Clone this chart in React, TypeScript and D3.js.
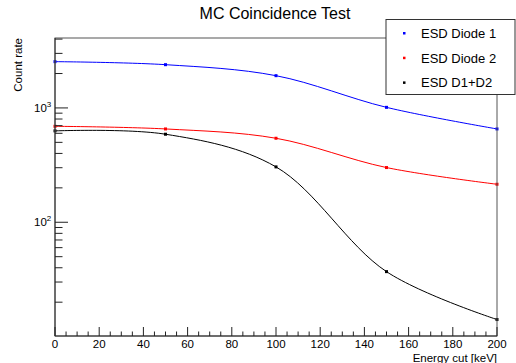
import React from "react";
import * as d3 from "d3";

const energies = [0, 50, 100, 150, 200];
const diode1 = [2540, 2390, 1915, 1012, 655];
const diode2 = [691, 655, 543, 301, 215];
const d1d2 = [630, 589, 305, 37.0, 14.1];
const seriesNames = ["ESD Diode 1", "ESD Diode 2", "ESD D1+D2"];
const seriesColors = ["#0000ff", "#ff0000", "#000000"];
const xTicks = [0, 20, 40, 60, 80, 100, 120, 140, 160, 180, 200];

const W = 516, H = 363;
const L = 55, R = 497, T = 38, B = 336;

export default function App() {
  const x = d3.scaleLinear().domain([0, 200]).range([L, R]);
  const y = d3.scaleLog().domain([10.12, 4090]).range([B, T]);
  const series = [diode1, diode2, d1d2];
  const line = d3
    .line<[number, number]>()
    .x((d) => x(d[0]))
    .y((d) => y(d[1]))
    .curve(d3.curveCatmullRom.alpha(0.5));

  const minorX = d3.range(0, 201, 5);
  const yMinor: number[] = [];
  for (const dec of [10, 100, 1000]) {
    for (let k = 1; k <= 9; k++) {
      const v = dec * k;
      if (v >= 10.12 && v <= 4090 && k !== 1) yMinor.push(v);
    }
  }
  const yMajor = [100, 1000];
  const font = "Liberation Sans, Arial, Helvetica, sans-serif";

  return (
    <svg width={W} height={H} style={{ position: "absolute", left: 0, top: 0 }} fontFamily={font}>
      <rect x={0} y={0} width={W} height={H} fill="#fff" />
      <text x={275} y={19} textAnchor="middle" fontSize={16}>MC Coincidence Test</text>

      {/* curves */}
      {series.map((s, i) => (
        <g key={i}>
          <path d={line(energies.map((e, j) => [e, s[j]]) as [number, number][]) || ""} fill="none" stroke={seriesColors[i]} strokeWidth={1} />
          {energies.map((e, j) => (
            <rect key={j} x={x(e) - 1.5} y={y(s[j]) - 1.5} width={3} height={3} fill={seriesColors[i]} />
          ))}
        </g>
      ))}

      {/* frame */}
      <rect x={L} y={T} width={R - L} height={B - T} fill="none" stroke="#555" strokeWidth={1} />
      <line x1={L} x2={L} y1={T} y2={B} stroke="#333" />
      <line x1={L} x2={R} y1={B} y2={B} stroke="#333" />

      {/* x ticks */}
      {minorX.map((v) => (
        <line key={v} x1={x(v)} x2={x(v)} y1={B} y2={v % 20 === 0 ? B - 9 : B - 4.5} stroke="#222" />
      ))}
      {xTicks.map((v) => (
        <text key={v} x={x(v)} y={348} textAnchor="middle" fontSize={11.5}>{v}</text>
      ))}
      <text x={R} y={362} textAnchor="end" fontSize={11.5}>Energy cut [keV]</text>

      {/* y ticks */}
      {yMinor.map((v) => (
        <line key={v} x1={L} x2={L + 7.5} y1={y(v)} y2={y(v)} stroke="#222" />
      ))}
      {yMajor.map((v) => (
        <line key={v} x1={L} x2={L + 13} y1={y(v)} y2={y(v)} stroke="#222" />
      ))}
      {yMajor.map((v) => (
        <text key={v} x={34} y={y(v) + 4} fontSize={11.5}>
          10<tspan dy={-5} fontSize={8}>{Math.round(Math.log10(v))}</tspan>
        </text>
      ))}
      <text transform={`translate(22,${T}) rotate(-90)`} textAnchor="end" fontSize={11.5}>Count rate</text>

      {/* legend */}
      <rect x={386} y={19.5} width={129} height={75} fill="#fff" stroke="#333" strokeWidth={1} />
      {seriesNames.map((n, i) => (
        <g key={n}>
          <rect x={403} y={32 + i * 24.7} width={2.5} height={2.5} fill={seriesColors[i]} />
          <text x={421} y={38 + i * 24.7} fontSize={13}>{n}</text>
        </g>
      ))}
    </svg>
  );
}
